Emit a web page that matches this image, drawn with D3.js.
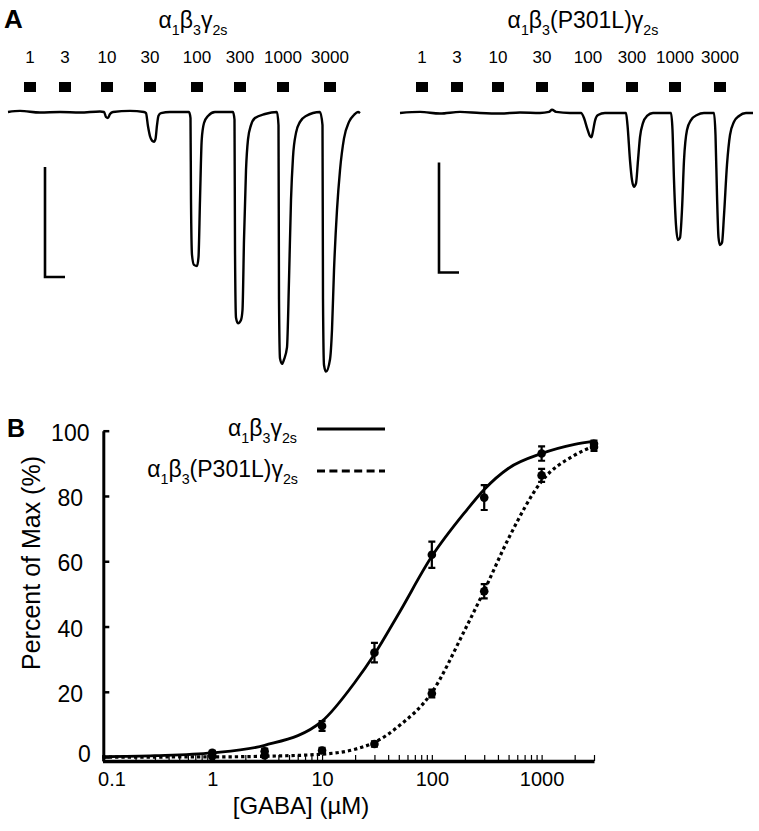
<!DOCTYPE html>
<html><head><meta charset="utf-8">
<script src="https://cdn.jsdelivr.net/npm/d3@7"></script>
<style>body{margin:0;background:#fff} svg{font-family:Arial,"Liberation Sans",Helvetica,sans-serif}</style>
</head><body><svg id="c" width="759" height="831"></svg>
<script>
// ---------------- Panel A data ----------------
const concLabels = ["1","3","10","30","100","300","1000","3000"];
const wtApplyStart = [16, 51, 93, 136, 183, 226, 269, 316];   // s
const mutApplyStart = [16, 51, 92, 136, 182, 226, 269, 314];  // s
const applyDuration = 12; // s
// current traces: [time (s), current (µA)]
const wtTrace = [[0,0],[12,0.01],[32,-0.005],[52,0],[72,-0.005],[92,0.005],[96,0],[98,-0.045],[100,-0.055],[102,-0.018],[105,0],[122,0.01],[136,0],[138,-0.01],[140,-0.13],[142,-0.22],[144,-0.26],[146,-0.27],[147.5,-0.245],[149,-0.12],[150.5,-0.035],[153,-0.01],[162,0],[181,0],[182.5,-0.055],[183,-0.8],[184,-1.3],[186,-1.39],[189,-1.4],[190.5,-1.32],[192,-0.8],[193.7,-0.255],[196,-0.1],[200,-0.036],[207,0],[225,0],[226.5,-0.07],[227,-1.25],[228,-1.87],[230,-1.92],[233,-1.89],[234.5,-1.8],[236,-1.16],[238,-0.53],[240,-0.25],[243,-0.12],[247,-0.055],[257,-0.018],[269,0],[270.5,-0.12],[271,-1.7],[272,-2.24],[274,-2.29],[276,-2.25],[279,-2.14],[281,-1.53],[283,-0.8],[285,-0.41],[288,-0.19],[292,-0.09],[298,-0.036],[312,0],[314.5,-0.12],[315,-1.7],[316,-2.3],[318,-2.36],[322,-2.25],[324,-1.98],[326,-1.44],[329,-0.89],[332,-0.53],[336,-0.24],[341,-0.09],[346,-0.027],[350,0],[352,-0.01]];
const mutTrace = [[0,0],[20,0.01],[40,-0.005],[60,0.01],[80,0],[100,-0.005],[120,0.005],[140,0],[149,0.01],[152,0.03],[156,0.01],[170,0],[181,0],[184,-0.045],[187,-0.135],[190,-0.21],[191.5,-0.22],[193,-0.165],[195,-0.07],[198,-0.018],[205,0],[226,0],[227.5,-0.11],[230,-0.43],[232,-0.61],[234,-0.67],[236,-0.64],[238,-0.43],[240,-0.22],[243,-0.09],[247,-0.027],[253,0],[271,0],[272.5,-0.155],[274,-0.61],[276,-1.02],[278,-1.155],[280,-1.135],[282,-0.88],[284,-0.43],[287,-0.155],[291,-0.064],[297,-0.018],[304,0],[314,0],[315.5,-0.2],[317,-0.745],[318.5,-1.13],[320,-1.2],[322,-1.18],[324,-0.93],[327,-0.47],[330,-0.2],[334,-0.08],[339,-0.027],[346,0],[353,0]];
const scaleBarCurrent = 1;  // µA
const scaleBarTime = 20;    // s

// ---------------- Panel B data ----------------
const gabaConc = [1, 3, 10, 30, 100, 300, 1000, 3000];
const wtMean  = [1.3, 1.8, 9.5, 32, 62, 79.5, 93, 96];
const wtSem   = [0.6, 0.8, 1.5, 3, 4, 3.8, 2.2, 1];
const mutMean = [0.3, 0.5, 2, 4, 19.5, 50.8, 86.3, 95];
const mutSem  = [0.3, 0.3, 0.8, 0.8, 1.2, 2.2, 2, 1.2];
const wtFitConc  = [0.1, 0.3, 1, 3, 10, 20, 30, 50, 100, 200, 300, 500, 1000, 2000, 3000];
const wtFitResp  = [0.15, 0.45, 1.3, 3.6, 11, 23, 31.5, 44, 61.5, 75, 82, 88.5, 93, 95.8, 96.8];
const mutFitConc = [0.1, 1, 3, 10, 20, 30, 50, 100, 200, 300, 500, 1000, 2000, 3000];
const mutFitResp = [0, 0.05, 0.25, 0.9, 2.4, 4.5, 9.5, 19.8, 39, 51, 67, 84.5, 92.5, 95.3];
const yTicks = [0, 20, 40, 60, 80, 100];
const xMajor = [0.1, 1, 10, 100, 1000];

// ---------------- helpers ----------------
const svg = d3.select("#c");
const wtParts  = [["α",0],["1",1],["β",0],["3",1],["γ",0],["2s",1]];
const mutParts = [["α",0],["1",1],["β",0],["3",1],["(P301L)γ",0],["2s",1]];
function formula(sel, parts, fs){
  let sub = false;
  parts.forEach(([s,isSub])=>{
    const t = sel.append("tspan").text(s);
    if(isSub){ t.attr("font-size", fs*0.62); if(!sub) t.attr("dy", fs*0.3); }
    else { if(sub) t.attr("dy", -fs*0.3); }
    sub = !!isSub;
  });
}

// ---------------- Panel A ----------------
svg.append("text").attr("x",4).attr("y",28).attr("font-size",26).attr("font-weight","bold").text("A");

function tracePanel(trace, starts, x0, x1, base, titleParts, titleX, barT, barI){
  const x = d3.scaleLinear().domain([0, trace[trace.length-1][0]]).range([x0, x1]);
  const y = d3.scaleLinear().domain([0, -1]).range([base, base+110]);
  const g = svg.append("g");
  formula(g.append("text").attr("x",titleX).attr("y",28).attr("font-size",23).attr("text-anchor","middle"), titleParts, 23);
  g.selectAll("rect.app").data(starts).join("rect")
    .attr("x", d=>x(d)).attr("y",82).attr("width", d=>x(d+applyDuration)-x(d)).attr("height",10).attr("fill","#000");
  g.selectAll("text.conc").data(starts).join("text")
    .attr("x", d=>x(d+applyDuration/2)).attr("y",63).attr("font-size",17).attr("text-anchor","middle")
    .text((d,i)=>concLabels[i]);
  g.append("path").datum(trace)
    .attr("d", d3.line().x(d=>x(d[0])).y(d=>y(d[1])).curve(d3.curveMonotoneX))
    .attr("fill","none").attr("stroke","#000").attr("stroke-width",2.4).attr("stroke-linejoin","round");
  g.append("path")
    .attr("d", `M${x(barT)},${y(barI)}V${y(barI-scaleBarCurrent)}H${x(barT+scaleBarTime)}`)
    .attr("fill","none").attr("stroke","#000").attr("stroke-width",2.6);
}
tracePanel(wtTrace, wtApplyStart, 8, 360, 112, wtParts, 193, 37, -0.5);
tracePanel(mutTrace, mutApplyStart, 400, 753, 113, mutParts, 583, 39, -0.45);

// ---------------- Panel B ----------------
svg.append("text").attr("x",7).attr("y",437).attr("font-size",25).attr("font-weight","bold").text("B");
const xs = d3.scaleLog().domain([0.1, 3000]).range([102.5, 594]);
const ys = d3.scaleLinear().domain([-1.2, 100]).range([761, 430.7]);

const minorTicks = [];
[0.1,1,10,100,1000].forEach(dec=>{ for(let k=1;k<10;k++){ const v=dec*k; if(v<=3000.001) minorTicks.push(v);} });
const xAxis = svg.append("g").attr("transform","translate(0,761)")
  .call(d3.axisBottom(xs).tickValues(minorTicks).tickSizeInner(-6).tickSizeOuter(0).tickPadding(11)
    .tickFormat(d=> xMajor.some(m=>Math.abs(m-d)/m<1e-6) ? String(d) : ""));
xAxis.select(".domain").attr("stroke-width",3.5).attr("stroke","#000");
xAxis.selectAll(".tick line").attr("stroke-width",1.2).attr("stroke","#000");
xAxis.selectAll(".tick text").attr("font-size",20).attr("fill","#000").attr("font-family","Arial, 'Liberation Sans', sans-serif")
  .attr("dx", d=> d===0.1 ? 9 : 0);
xAxis.selectAll(".tick").filter(d=> !xMajor.some(m=>Math.abs(m-d)/m<1e-6)).select("text").remove();

const yAxis = svg.append("g").attr("transform","translate(103.3,0)")
  .call(d3.axisLeft(ys).tickValues(yTicks).tickSizeInner(-6).tickSizeOuter(0).tickPadding(33));
yAxis.select(".domain").attr("stroke-width",3).attr("stroke","#000");
yAxis.selectAll(".tick line").attr("stroke-width",2.5).attr("stroke","#000");
yAxis.selectAll(".tick text").attr("font-size",23).attr("fill","#000").attr("font-family","Arial, 'Liberation Sans', sans-serif")
  .attr("text-anchor","middle").attr("dy", d=> d===0 ? "0.18em" : "0.42em")
  .attr("x", d=> d===0 ? -19 : -33);

svg.append("text").attr("transform","translate(40,563) rotate(-90)").attr("text-anchor","middle")
  .attr("font-size",25).text("Percent of Max (%)");
svg.append("text").attr("x",301).attr("y",814).attr("text-anchor","middle").attr("font-size",24).text("[GABA] (µM)");

// fit curves
const fitLine = d3.line().x(d=>xs(d[0])).y(d=>ys(d[1])).curve(d3.curveMonotoneX);
svg.append("path").datum(mutFitConc.map((c,i)=>[c,mutFitResp[i]]))
  .attr("d",fitLine).attr("fill","none").attr("stroke","#000").attr("stroke-width",3.2).attr("stroke-dasharray","3.3,3");
svg.append("path").datum(wtFitConc.map((c,i)=>[c,wtFitResp[i]]))
  .attr("d",fitLine).attr("fill","none").attr("stroke","#000").attr("stroke-width",2.8);

// data points with error bars
function points(mean, sem){
  const g = svg.append("g");
  const d = gabaConc.map((c,i)=>({c, m:mean[i], s:sem[i]}));
  g.selectAll("path.err").data(d).join("path")
    .attr("d", p=>{ const X=xs(p.c), t=ys(p.m+p.s), b=ys(p.m-p.s);
      return `M${X},${t}V${b}M${X-3.5},${t}H${X+3.5}M${X-3.5},${b}H${X+3.5}`; })
    .attr("stroke","#000").attr("stroke-width",2.2).attr("fill","none");
  g.selectAll("circle").data(d).join("circle")
    .attr("cx", p=>xs(p.c)).attr("cy", p=>ys(p.m)).attr("r",4.3).attr("fill","#000");
}
points(mutMean, mutSem);
points(wtMean, wtSem);

// legend
const leg = svg.append("g");
formula(leg.append("text").attr("x",297).attr("y",436).attr("text-anchor","end").attr("font-size",23), wtParts, 23);
formula(leg.append("text").attr("x",298).attr("y",477).attr("text-anchor","end").attr("font-size",23), mutParts, 23);
leg.append("line").attr("x1",317).attr("x2",385).attr("y1",429).attr("y2",429).attr("stroke","#000").attr("stroke-width",3.2);
leg.append("line").attr("x1",317).attr("x2",385).attr("y1",471).attr("y2",471).attr("stroke","#000").attr("stroke-width",3.2).attr("stroke-dasharray","8,4.4");
</script></body></html>
